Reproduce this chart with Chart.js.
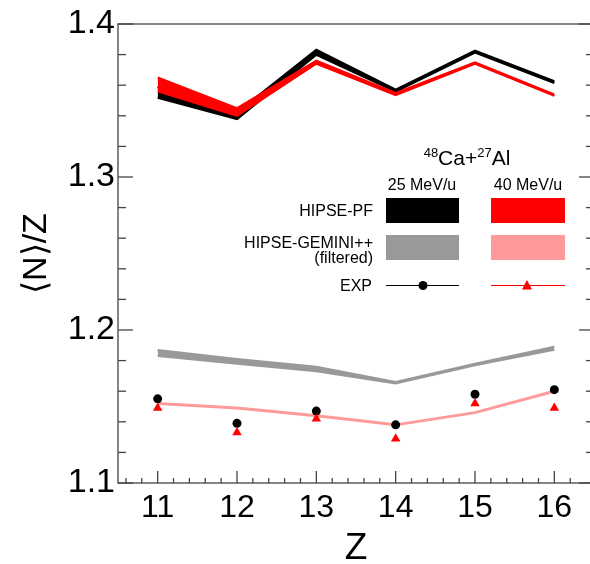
<!DOCTYPE html>
<html><head><meta charset="utf-8">
<script src="https://cdn.jsdelivr.net/npm/chart.js@4/dist/chart.umd.min.js"></script>
<style>
html,body{margin:0;padding:0;overflow:hidden;background:#fff;width:590px;height:564px}
#wrap{position:absolute;left:0;top:0;width:600px;height:564px}
</style>
</head><body><div id="wrap"><canvas id="c" width="600" height="564"></canvas></div>
<script>
// ---- data ----
const Z = [11, 12, 13, 14, 15, 16];
const X_TICKS = [11, 12, 13, 14, 15, 16];
const Y_TICKS = [1.1, 1.2, 1.3, 1.4];
const pf25Low  = [1.352, 1.338, 1.380, 1.356, 1.3815, 1.3615];
const pf25High = [1.359, 1.342, 1.383, 1.357, 1.3825, 1.3625];
const pf40Low  = [1.356, 1.340, 1.374, 1.3535, 1.374, 1.353];
const pf40High = [1.365, 1.345, 1.376, 1.355, 1.375, 1.354];
const gem25Low  = [1.183, 1.178, 1.173, 1.165, 1.177, 1.187];
const gem25High = [1.187, 1.181, 1.176, 1.166, 1.178, 1.189];
const gem40 = [1.152, 1.149, 1.144, 1.138, 1.146, 1.160];
const exp25 = [1.155, 1.139, 1.147, 1.138, 1.158, 1.161];
const exp40 = [1.149, 1.133, 1.142, 1.129, 1.152, 1.149];

const FONT = '"Liberation Sans", Arial, Helvetica, sans-serif';
const C_BLACK = '#000000', C_RED = '#ff0000', C_GRAY = '#999999', C_PINK = '#ff9a9a';
const pts = arr => Z.map((z, i) => ({x: z, y: arr[i]}));

function band(low, high, color, width, order) {
  return [
    {data: pts(low), borderColor: color, backgroundColor: color, borderWidth: width, pointRadius: 0, fill: false, order: order, tension: 0},
    {data: pts(high), borderColor: color, backgroundColor: color, borderWidth: width, pointRadius: 0, fill: '-1', order: order, tension: 0}
  ];
}

const frameTicks = {
  id: 'frameTicks',
  afterDatasetsDraw(chart) {
    const {ctx, chartArea: a, scales: {x, y}} = chart;
    ctx.save();
    ctx.strokeStyle = '#444';
    ctx.lineWidth = 1.3;
    ctx.strokeRect(a.left, a.top, a.right - a.left, a.bottom - a.top);
    const seg = (x1, y1, x2, y2) => { ctx.beginPath(); ctx.moveTo(x1, y1); ctx.lineTo(x2, y2); ctx.stroke(); };
    for (let i = 0; i <= 15; i++) {
      const v = 1.1 + i * 0.02;
      const py = y.getPixelForValue(v);
      const L = (i % 5 === 0) ? 15 : 8;
      seg(a.left, py, a.left + L, py);
      seg(a.right, py, a.right - L, py);
    }
    for (let i = 1; i < 30; i++) {
      const v = 10.4 + i * 0.2;
      const px = x.getPixelForValue(v);
      const major = Math.abs(v - Math.round(v)) < 1e-6;
      seg(px, a.bottom, px, a.bottom - (major ? 12 : 5));
    }
    ctx.restore();
  }
};

const legendBox = {
  id: 'legendBox',
  afterDraw(chart) {
    const ctx = chart.ctx;
    ctx.save();
    ctx.fillStyle = '#000';
    ctx.textBaseline = 'alphabetic';
    // title with superscripts
    const big = '21px ' + FONT, small = '13px ' + FONT;
    const parts = [['48', small, -8], ['Ca+', big, 0], ['27', small, -8], ['Al', big, 0]];
    let w = 0;
    parts.forEach(p => { ctx.font = p[1]; w += ctx.measureText(p[0]).width; });
    let cx = 467 - w / 2;
    ctx.textAlign = 'left';
    parts.forEach(p => { ctx.font = p[1]; ctx.fillText(p[0], cx, 165 + p[2]); cx += ctx.measureText(p[0]).width; });
    // column headers
    ctx.font = '16px ' + FONT;
    ctx.textAlign = 'center';
    ctx.fillText('25 MeV/u', 422, 190);
    ctx.fillText('40 MeV/u', 528, 190);
    // row labels
    ctx.textAlign = 'right';
    ctx.fillText('HIPSE-PF', 373, 216);
    ctx.fillText('HIPSE-GEMINI++', 373, 248);
    ctx.fillText('(filtered)', 373, 263);
    ctx.fillText('EXP', 372, 291);
    // boxes
    ctx.fillStyle = C_BLACK; ctx.fillRect(386, 198, 73, 25);
    ctx.fillStyle = C_RED;   ctx.fillRect(491, 198, 74, 25);
    ctx.fillStyle = C_GRAY;  ctx.fillRect(386, 235, 73, 25);
    ctx.fillStyle = C_PINK;  ctx.fillRect(491, 235, 74, 25);
    // EXP lines with markers
    ctx.lineWidth = 1.2;
    ctx.strokeStyle = C_BLACK;
    ctx.beginPath(); ctx.moveTo(386, 285.5); ctx.lineTo(459, 285.5); ctx.stroke();
    ctx.fillStyle = C_BLACK;
    ctx.beginPath(); ctx.arc(423, 285.5, 4.5, 0, Math.PI * 2); ctx.fill();
    ctx.strokeStyle = C_RED;
    ctx.beginPath(); ctx.moveTo(491, 285.5); ctx.lineTo(565, 285.5); ctx.stroke();
    ctx.fillStyle = C_RED;
    ctx.beginPath(); ctx.moveTo(527, 280); ctx.lineTo(532, 289.5); ctx.lineTo(522, 289.5); ctx.closePath(); ctx.fill();
    ctx.restore();
  }
};

new Chart(document.getElementById('c'), {
  type: 'line',
  data: {
    datasets: [
      ...band(pf25Low, pf25High, C_BLACK, 2.5, 4),
      ...band(pf40Low, pf40High, C_RED, 2, 3),
      ...band(gem25Low, gem25High, C_GRAY, 2, 5),
      {data: pts(gem40), borderColor: C_PINK, borderWidth: 3, pointRadius: 0, fill: false, order: 5, tension: 0},
      {data: pts(exp25), showLine: false, pointStyle: 'circle', pointRadius: 4.5, pointBackgroundColor: C_BLACK, pointBorderColor: C_BLACK, pointBorderWidth: 0, order: 1},
      {data: pts(exp40), showLine: false, pointStyle: 'triangle', pointRadius: 5.5, pointBackgroundColor: C_RED, pointBorderColor: C_RED, pointBorderWidth: 0, order: 0}
    ]
  },
  options: {
    responsive: false,
    animation: false,
    events: [],
    layout: {padding: {top: 24, right: 6, left: 0, bottom: 0}},
    plugins: {legend: {display: false}, tooltip: {enabled: false}},
    scales: {
      x: {
        type: 'linear', min: 10.5, max: 16.5,
        grid: {display: false, drawTicks: false},
        border: {display: false},
        afterBuildTicks: s => { s.ticks = X_TICKS.map(v => ({value: v})); },
        afterFit: s => { s.height = 81; },
        ticks: {font: {family: FONT, size: 32}, color: '#000', padding: 6, maxRotation: 0, callback: v => String(v)},
        title: {display: true, text: 'Z', color: '#000', font: {family: FONT, size: 37, lineHeight: 1}, padding: {top: -3, bottom: -3}}
      },
      y: {
        type: 'linear', min: 1.1, max: 1.4,
        grid: {display: false, drawTicks: false},
        border: {display: false},
        afterBuildTicks: s => { s.ticks = Y_TICKS.map(v => ({value: v})); },
        afterFit: s => { s.width = 118; },
        ticks: {font: {family: FONT, size: 34}, color: '#000', padding: 3, callback: v => Number(v).toFixed(1)},
        title: {display: true, text: '⟨N⟩/Z', color: '#000', font: {family: FONT, size: 34, lineHeight: 1}, padding: {top: 20, bottom: 0}}
      }
    }
  },
  plugins: [frameTicks, legendBox]
});
</script>
</body></html>
